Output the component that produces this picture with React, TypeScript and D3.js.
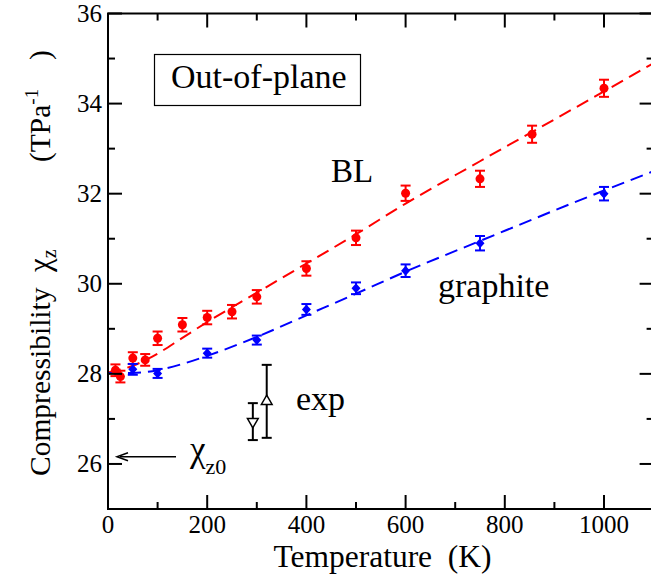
import React from "react";
import * as d3 from "d3";

const redT = [15, 25, 50, 75, 100, 150, 200, 250, 300, 400, 500, 600, 750, 855, 1000];
const redV = [28.08, 27.94, 28.35, 28.31, 28.79, 29.09, 29.25, 29.38, 29.71, 30.34, 31.02, 32.01, 32.33, 33.32, 34.34];
const redErr = [0.13, 0.13, 0.13, 0.13, 0.15, 0.15, 0.15, 0.15, 0.15, 0.16, 0.16, 0.17, 0.18, 0.19, 0.19];

const blueT = [50, 100, 200, 300, 400, 500, 600, 750, 1000];
const blueV = [28.1, 28.01, 28.46, 28.75, 29.43, 29.9, 30.29, 30.9, 32.0];
const blueErr = [0.12, 0.1, 0.1, 0.1, 0.12, 0.13, 0.14, 0.16, 0.15];

const expT = [292, 320];
const expV = [26.94, 27.39];
const expErr = [0.41, 0.81];

const redFitT = [0, 50, 100, 150, 200, 300, 400, 500, 600, 750, 1000, 1100];
const redFitV = [28.03, 28.18, 28.45, 28.8, 29.15, 29.8, 30.45, 31.1, 31.78, 32.72, 34.27, 34.9];
const blueFitT = [0, 50, 100, 150, 200, 300, 400, 500, 600, 750, 1000, 1100];
const blueFitV = [28.02, 28.02, 28.08, 28.22, 28.4, 28.82, 29.3, 29.78, 30.27, 30.95, 32.07, 32.5];

const xTicks = [0, 200, 400, 600, 800, 1000];
const xMinor = [100, 300, 500, 700, 900, 1100];
const yTicks = [26, 28, 30, 32, 34, 36];
const yMinor = [25, 27, 29, 31, 33, 35];

const W = 651;
const H = 583;
const FONT = '"Liberation Serif", "Times New Roman", Times, serif';

export default function App() {
  const x = d3.scaleLinear().domain([0, 1100]).range([108, 653.6]);
  const y = d3.scaleLinear().domain([25, 36]).range([509, 13.5]);

  const line = d3
    .line<[number, number]>()
    .x((d) => x(d[0]))
    .y((d) => y(d[1]))
    .curve(d3.curveMonotoneX);

  const redFit = redFitT.map((t, i) => [t, redFitV[i]] as [number, number]);
  const blueFit = blueFitT.map((t, i) => [t, blueFitV[i]] as [number, number]);

  const errBar = (t: number, v: number, e: number, color: string, cap: number, key: string) => (
    <g key={key} stroke={color} strokeWidth={2} fill="none">
      <line x1={x(t)} x2={x(t)} y1={y(v - e)} y2={y(v + e)} />
      <line x1={x(t) - cap} x2={x(t) + cap} y1={y(v - e)} y2={y(v - e)} />
      <line x1={x(t) - cap} x2={x(t) + cap} y1={y(v + e)} y2={y(v + e)} />
    </g>
  );

  const tri = d3.symbol().type(d3.symbolTriangle).size(50)();
  const ts: React.CSSProperties = { fontFamily: FONT };
  const arrowY = y(26.16);

  return (
    <svg
      width={W}
      height={H}
      style={{ position: "absolute", left: 0, top: 0, background: "#fff", fontFamily: FONT }}
    >
      <defs>
        <clipPath id="plot">
          <rect x={108} y={13.5} width={545.6} height={495.5} />
        </clipPath>
      </defs>

      {/* fit lines */}
      <g clipPath="url(#plot)" fill="none" strokeWidth={2} strokeDasharray="13,7">
        <path d={line(redFit) || ""} stroke="#ff0000" />
        <path d={line(blueFit) || ""} stroke="#0000ff" />
      </g>

      {/* red data */}
      {redT.map((t, i) => errBar(t, redV[i], redErr[i], "#ff0000", 5, "re" + i))}
      {redT.map((t, i) => (
        <circle key={"rc" + i} cx={x(t)} cy={y(redV[i])} r={4.5} fill="#ff0000" />
      ))}

      {/* blue data */}
      {blueT.map((t, i) => errBar(t, blueV[i], blueErr[i], "#0000ff", 5, "be" + i))}
      {blueT.map((t, i) => (
        <path
          key={"bd" + i}
          d={`M${x(t)},${y(blueV[i]) - 5}L${x(t) + 4.5},${y(blueV[i])}L${x(t)},${y(blueV[i]) + 5}L${x(t) - 4.5},${y(blueV[i])}Z`}
          fill="#0000ff"
        />
      ))}

      {/* experiment */}
      {expT.map((t, i) => errBar(t, expV[i], expErr[i], "#000", 5, "ee" + i))}
      {expT.map((t, i) => (
        <path
          key={"et" + i}
          d={tri}
          transform={`translate(${x(t)},${y(expV[i])}) rotate(${i === 0 ? 180 : 0})`}
          fill="#fff"
          stroke="#000"
          strokeWidth={1.5}
        />
      ))}

      {/* axes frame */}
      <g stroke="#000" strokeWidth={2} fill="none">
        <line x1={108} x2={108} y1={13.5} y2={510} />
        <line x1={107} x2={654} y1={509} y2={509} />
        <line x1={107} x2={654} y1={13.5} y2={13.5} />
        <line x1={653.6} x2={653.6} y1={13.5} y2={509} />
        {xTicks.map((t) => (
          <g key={"xt" + t}>
            <line x1={x(t)} x2={x(t)} y1={509} y2={495} />
            <line x1={x(t)} x2={x(t)} y1={13.5} y2={27.5} />
          </g>
        ))}
        {xMinor.map((t) => (
          <g key={"xm" + t}>
            <line x1={x(t)} x2={x(t)} y1={509} y2={502} />
            <line x1={x(t)} x2={x(t)} y1={13.5} y2={20.5} />
          </g>
        ))}
        {yTicks.map((v) => (
          <g key={"yt" + v}>
            <line x1={108} x2={122} y1={y(v)} y2={y(v)} />
            <line x1={653.6} x2={639.6} y1={y(v)} y2={y(v)} />
          </g>
        ))}
        {yMinor.map((v) => (
          <g key={"ym" + v}>
            <line x1={108} x2={115} y1={y(v)} y2={y(v)} />
            <line x1={653.6} x2={646.6} y1={y(v)} y2={y(v)} />
          </g>
        ))}
      </g>

      {/* tick labels */}
      <g fill="#000">
        {xTicks.map((t) => (
          <text key={"xl" + t} x={x(t)} y={533} textAnchor="middle" style={{ ...ts, fontSize: 25 }}>
            {t}
          </text>
        ))}
        {yTicks.map((v) => (
          <text key={"yl" + v} x={102} y={y(v) + 8.5} textAnchor="end" style={{ ...ts, fontSize: 25 }}>
            {v}
          </text>
        ))}
      </g>

      {/* axis titles */}
      <text x={382.5} y={567} textAnchor="middle" style={{ ...ts, fontSize: 31.5 }}>
        Temperature{"\u00a0\u00a0"}(K)
      </text>
      <text transform="translate(50,0) rotate(-90)" style={{ ...ts, fontSize: 29.5 }}>
        <tspan x={-476} y={0}>Compressibility</tspan>
        <tspan x={-272} y={0} style={{ fontSize: 31 }}>χ</tspan>
        <tspan dy={6} style={{ fontSize: 20 }}>z</tspan>
        <tspan x={-162} y={0}>(TPa</tspan>
        <tspan dy={-12} style={{ fontSize: 19 }}>-1</tspan>
        <tspan x={-60} y={0}>)</tspan>
      </text>

      {/* legend box */}
      <rect x={154.5} y={54.5} width={206} height={51} fill="none" stroke="#000" strokeWidth={1.2} />
      <text x={171} y={87.5} style={{ ...ts, fontSize: 34 }}>
        Out-of-plane
      </text>

      {/* annotations */}
      <text x={331} y={182} style={{ ...ts, fontSize: 33 }}>
        BL
      </text>
      <text x={438} y={297} style={{ ...ts, fontSize: 34 }}>
        graphite
      </text>
      <text x={296} y={410} style={{ ...ts, fontSize: 34 }}>
        exp
      </text>

      {/* chi_z0 arrow */}
      <g stroke="#000" strokeWidth={1.5} fill="#000">
        <line x1={120} x2={176} y1={arrowY} y2={arrowY} />
        <path d={`M${128},${arrowY - 4}L${117},${arrowY}L${128},${arrowY + 4}`} fill="none" />
      </g>
      <text x={190} y={461} style={{ ...ts, fontSize: 35 }}>
        χ
        <tspan dy={13} style={{ fontSize: 22 }}>z0</tspan>
      </text>
    </svg>
  );
}
